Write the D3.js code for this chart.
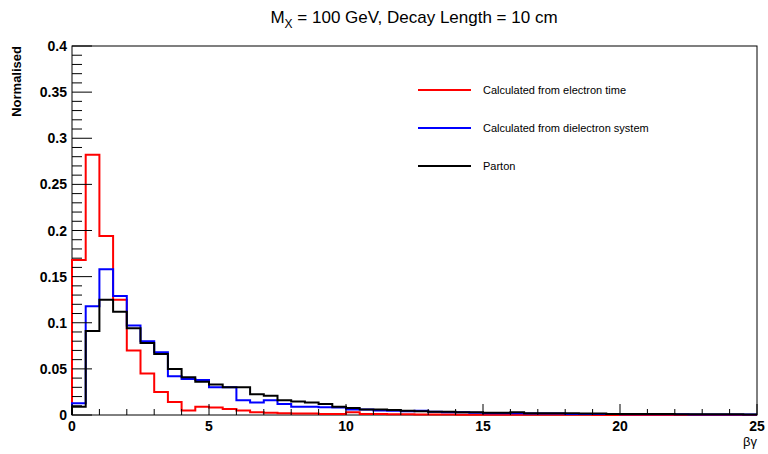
<!DOCTYPE html>
<html><head><meta charset="utf-8">
<script src="https://cdn.jsdelivr.net/npm/d3@7"></script>
<style>body{margin:0;background:#fff}svg{font-family:"Liberation Sans",Arial,sans-serif}</style>
</head><body>
<svg id="c" width="768" height="454"></svg>
<script>
const binWidth = 0.5;
const xTicks = [0,5,10,15,20,25];
const yTicks = [0,0.05,0.1,0.15,0.2,0.25,0.3,0.35,0.4];
const seriesNames = ["Calculated from electron time","Calculated from dielectron system","Parton"];
const seriesColors = ["#ff0000","#0000ff","#000000"];
const redVals = [0.168,0.282,0.194,0.125,0.070,0.045,0.025,0.014,0.005,0.009,0.008,0.0065,0.005,0.003,0.0025,0.002,0.0015,0.0015,0.001,0.001,0.003,0.001,0.001,0.0008,0.0007,0.0006,0.0005,0.0005,0.0004,0.0004,0.0003,0.0003,0.0003,0.0002,0.0002,0.0002,0.0002,0.0002,0.0001,0.0001,0.0001,0.0001,0.0001,0.0001,0.0001,0.0001,0.0001,0.0001,0.0001,0.0001];
const blueVals = [0.0127,0.118,0.158,0.129,0.097,0.080,0.068,0.042,0.039,0.038,0.030,0.030,0.016,0.0135,0.016,0.012,0.009,0.009,0.0085,0.008,0.006,0.006,0.005,0.0045,0.004,0.0045,0.0035,0.003,0.003,0.0025,0.002,0.002,0.002,0.0015,0.0015,0.0015,0.0012,0.001,0.001,0.001,0.0009,0.0008,0.0008,0.0007,0.0007,0.0006,0.0006,0.0005,0.0005,0.0005];
const blackVals = [0.009,0.091,0.125,0.112,0.094,0.078,0.066,0.050,0.041,0.036,0.033,0.030,0.030,0.0225,0.021,0.016,0.0145,0.0135,0.012,0.009,0.0075,0.006,0.006,0.0055,0.0045,0.004,0.0035,0.0035,0.003,0.003,0.0025,0.0025,0.003,0.002,0.002,0.002,0.0018,0.0015,0.0015,0.0012,0.0012,0.001,0.001,0.001,0.0009,0.0008,0.0008,0.0007,0.0007,0.0006];
const allVals = [redVals, blueVals, blackVals];

const svg = d3.select("#c");
const L=72,R=757,T=46,B=415;
const x = d3.scaleLinear().domain([0,25]).range([L,R]);
const y = d3.scaleLinear().domain([0,0.4]).range([B,T]);

svg.append("rect").attr("x",L).attr("y",T).attr("width",R-L).attr("height",B-T).attr("fill","none").attr("stroke","#000").attr("stroke-width",1);

const line = d3.line().x(d=>x(d[0])).y(d=>y(d[1])).curve(d3.curveStepAfter);
allVals.forEach((vals,i)=>{
  const pts = vals.map((v,j)=>[j*binWidth,v]);
  pts.push([vals.length*binWidth, vals[vals.length-1]]);
  pts.unshift([0,0]);
  svg.append("path").attr("d",line(pts)).attr("fill","none").attr("stroke",seriesColors[i]).attr("stroke-width",2);
});

for(let v=0; v<=25.001; v+=1){
  const major = Math.abs(v%5)<1e-6;
  svg.append("line").attr("x1",x(v)).attr("x2",x(v)).attr("y1",B).attr("y2",B-(major?11:6)).attr("stroke","#000");
}
xTicks.forEach(v=>svg.append("text").attr("x",x(v)).attr("y",B+16).attr("text-anchor","middle").attr("font-size",14).attr("font-weight","bold").text(v));
for(let k=0;k<=40;k++){
  const v=k*0.01, major = k%5===0;
  svg.append("line").attr("x1",L).attr("x2",L+(major?20:10)).attr("y1",y(v)).attr("y2",y(v)).attr("stroke","#000");
}
yTicks.forEach(v=>svg.append("text").attr("x",L-5).attr("y",y(v)+5).attr("text-anchor","end").attr("font-size",14).attr("font-weight","bold").text(v===0?"0":String(+v.toFixed(2))));

svg.append("text").attr("x",R).attr("y",446).attr("text-anchor","end").attr("font-size",13).text("βγ");
svg.append("text").attr("transform",`translate(21,${T})rotate(-90)`).attr("text-anchor","end").attr("font-size",13).attr("font-weight","bold").text("Normalised");

const t = svg.append("text").attr("x",414).attr("y",23).attr("text-anchor","middle").attr("font-size",17);
t.append("tspan").text("M");
t.append("tspan").attr("font-size",12).attr("dy",5).text("X");
t.append("tspan").attr("dy",-5).text(" = 100 GeV, Decay Length = 10 cm");

seriesNames.forEach((n,i)=>{
  const ly = 90 + i*38;
  svg.append("line").attr("x1",418).attr("x2",471).attr("y1",ly).attr("y2",ly).attr("stroke",seriesColors[i]).attr("stroke-width",2);
  svg.append("text").attr("x",483).attr("y",ly+4).attr("font-size",11).text(n);
});
</script>
</body></html>
